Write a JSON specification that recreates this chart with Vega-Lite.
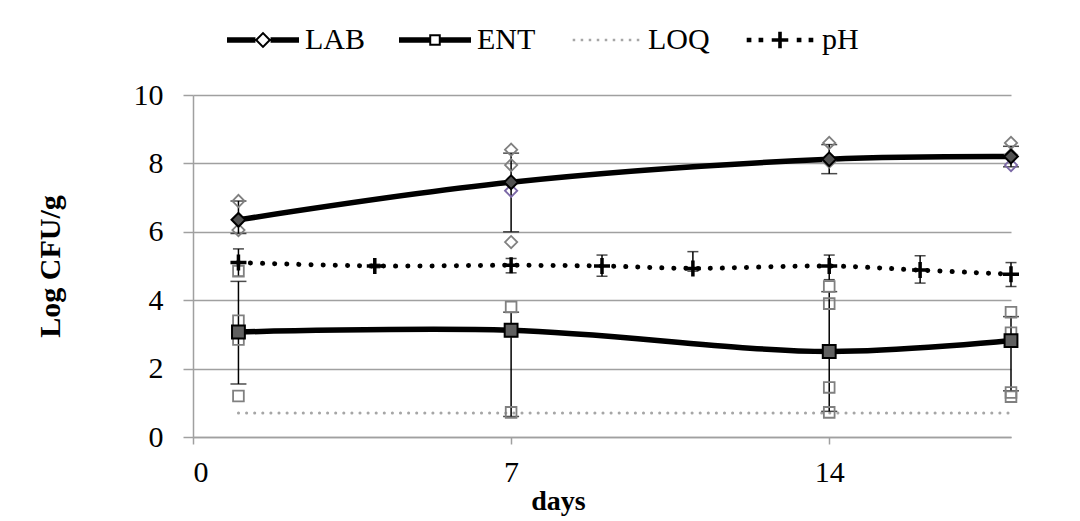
{
  "$schema": "https://vega.github.io/schema/vega-lite/v6.json",
  "autosize": {"type": "none"},
  "width": 818,
  "height": 342,
  "padding": {"left": 193, "top": 95, "right": 69, "bottom": 84},
  "background": "white",
  "config": {
    "view": {"stroke": null},
    "font": "Liberation Serif",
    "axis": {
      "labelFont": "Liberation Serif",
      "titleFont": "Liberation Serif",
      "labelColor": "black",
      "titleColor": "black",
      "domainColor": "#a0a0a0",
      "tickColor": "#a0a0a0",
      "gridColor": "#a0a0a0",
      "domainWidth": 1.5,
      "tickWidth": 1.5,
      "gridWidth": 1.5
    }
  },
  "datasets": {
    "means": [
      {"series": "LAB", "day": 1, "mean": 6.35, "lo": 5.95, "hi": 6.9},
      {"series": "LAB", "day": 7, "mean": 7.45, "lo": 6.0, "hi": 8.3},
      {"series": "LAB", "day": 14, "mean": 8.12, "lo": 7.7, "hi": 8.55},
      {"series": "LAB", "day": 18, "mean": 8.2, "lo": 7.9, "hi": 8.5},
      {"series": "ENT", "day": 1, "mean": 3.07, "lo": 1.55, "hi": 4.55},
      {"series": "ENT", "day": 7, "mean": 3.12, "lo": 0.6, "hi": 3.65},
      {"series": "ENT", "day": 14, "mean": 2.5, "lo": 0.75, "hi": 4.25},
      {"series": "ENT", "day": 18, "mean": 2.82, "lo": 1.35, "hi": 3.52},
      {"series": "pH", "day": 1, "mean": 5.1, "lo": 4.7, "hi": 5.5},
      {"series": "pH", "day": 4, "mean": 5.0, "lo": 4.95, "hi": 5.05},
      {"series": "pH", "day": 7, "mean": 5.02, "lo": 4.8, "hi": 5.22},
      {"series": "pH", "day": 9, "mean": 5.0, "lo": 4.7, "hi": 5.32},
      {"series": "pH", "day": 11, "mean": 4.93, "lo": 4.85, "hi": 5.42},
      {"series": "pH", "day": 14, "mean": 5.0, "lo": 4.6, "hi": 5.32},
      {"series": "pH", "day": 16, "mean": 4.88, "lo": 4.5, "hi": 5.3},
      {"series": "pH", "day": 18, "mean": 4.76, "lo": 4.4, "hi": 5.1}
    ],
    "reps": [
      {"series": "LAB", "day": 1, "rep": 1, "value": 6.35},
      {"series": "LAB", "day": 1, "rep": 2, "value": 6.9},
      {"series": "LAB", "day": 1, "rep": 3, "value": 6.05},
      {"series": "LAB", "day": 7, "rep": 1, "value": 7.2},
      {"series": "LAB", "day": 7, "rep": 2, "value": 8.4},
      {"series": "LAB", "day": 7, "rep": 3, "value": 7.95},
      {"series": "LAB", "day": 7, "rep": 4, "value": 5.7},
      {"series": "LAB", "day": 14, "rep": 1, "value": 8.1},
      {"series": "LAB", "day": 14, "rep": 2, "value": 8.6},
      {"series": "LAB", "day": 14, "rep": 3, "value": 8.05},
      {"series": "LAB", "day": 18, "rep": 1, "value": 7.95},
      {"series": "LAB", "day": 18, "rep": 2, "value": 8.6},
      {"series": "LAB", "day": 18, "rep": 3, "value": 8.25},
      {"series": "ENT", "day": 1, "rep": 1, "value": 4.85},
      {"series": "ENT", "day": 1, "rep": 2, "value": 3.4},
      {"series": "ENT", "day": 1, "rep": 3, "value": 2.85},
      {"series": "ENT", "day": 1, "rep": 4, "value": 1.2},
      {"series": "ENT", "day": 7, "rep": 1, "value": 3.8},
      {"series": "ENT", "day": 7, "rep": 2, "value": 3.1},
      {"series": "ENT", "day": 7, "rep": 3, "value": 0.72},
      {"series": "ENT", "day": 14, "rep": 1, "value": 4.4},
      {"series": "ENT", "day": 14, "rep": 2, "value": 3.9},
      {"series": "ENT", "day": 14, "rep": 3, "value": 1.45},
      {"series": "ENT", "day": 14, "rep": 4, "value": 0.72},
      {"series": "ENT", "day": 18, "rep": 1, "value": 3.65},
      {"series": "ENT", "day": 18, "rep": 2, "value": 3.05},
      {"series": "ENT", "day": 18, "rep": 3, "value": 1.3},
      {"series": "ENT", "day": 18, "rep": 4, "value": 1.18}
    ],
    "loq": [
      {"day": 1, "value": 0.7},
      {"day": 18, "value": 0.7}
    ],
    "legend": [
      {"series": "LAB"},
      {"series": "ENT"},
      {"series": "LOQ"},
      {"series": "pH"}
    ]
  },
  "encoding": {
    "x": {
      "field": "day",
      "type": "quantitative",
      "scale": {"domain": [0, 18], "nice": false},
      "axis": {
        "values": [0, 7, 14],
        "grid": false,
        "title": "days",
        "titleFontSize": 28,
        "titleFontWeight": "bold",
        "titlePadding": 0,
        "titleX": 365,
        "titleAnchor": "middle",
        "labelFontSize": 30,
        "labelPadding": 13,
        "labelDx": -4,
        "tickSize": 7
      }
    }
  },
  "layer": [
    {
      "data": {"name": "loq"},
      "mark": {"type": "line", "color": "#a6a6a6", "strokeWidth": 3, "strokeDash": [0.1, 8], "strokeCap": "round"},
      "encoding": {
        "y": {
          "field": "value",
          "type": "quantitative",
          "scale": {"domain": [0, 10], "nice": false},
          "axis": {
            "values": [0, 2, 4, 6, 8, 10],
            "grid": true,
            "title": "Log CFU/g",
            "titleFontSize": 30,
            "titleFontWeight": "bold",
            "titlePadding": 68,
            "labelFontSize": 30,
            "labelPadding": 20,
            "tickSize": 10
          }
        }
      }
    },
    {
      "data": {"name": "means"},
      "transform": [{"filter": "datum.series !== 'pH'"}],
      "mark": {"type": "line", "color": "black", "strokeWidth": 5.5, "interpolate": "catmull-rom"},
      "encoding": {
        "y": {"field": "mean", "type": "quantitative"},
        "detail": {"field": "series"}
      }
    },
    {
      "data": {"name": "means"},
      "transform": [{"filter": "datum.series === 'pH'"}],
      "mark": {"type": "line", "color": "black", "strokeWidth": 5, "strokeDash": [0.1, 12], "strokeCap": "round", "interpolate": "catmull-rom"},
      "encoding": {
        "y": {"field": "mean", "type": "quantitative"}
      }
    },
    {
      "data": {"name": "means"},
      "mark": {"type": "rule", "color": "black", "strokeWidth": 1.5},
      "encoding": {
        "y": {"field": "lo", "type": "quantitative"},
        "y2": {"field": "hi"}
      }
    },
    {
      "data": {"name": "means"},
      "mark": {"type": "tick", "orient": "horizontal", "color": "black", "thickness": 1.5},
      "encoding": {
        "y": {"field": "lo", "type": "quantitative"},
        "size": {"condition": {"test": "datum.series === 'pH'", "value": 11}, "value": 16}
      }
    },
    {
      "data": {"name": "means"},
      "mark": {"type": "tick", "orient": "horizontal", "color": "black", "thickness": 1.5},
      "encoding": {
        "y": {"field": "hi", "type": "quantitative"},
        "size": {"condition": {"test": "datum.series === 'pH'", "value": 11}, "value": 16}
      }
    },
    {
      "data": {"name": "reps"},
      "transform": [{"filter": "datum.series === 'LAB'"}],
      "mark": {"type": "point", "shape": "diamond", "filled": false, "size": 150, "strokeWidth": 1.8, "opacity": 1},
      "encoding": {
        "y": {"field": "value", "type": "quantitative"},
        "stroke": {"condition": {"test": "datum.rep === 1", "value": "#7b68a6"}, "value": "#808080"}
      }
    },
    {
      "data": {"name": "reps"},
      "transform": [{"filter": "datum.series === 'ENT'"}],
      "mark": {"type": "point", "shape": "square", "filled": false, "size": 115, "strokeWidth": 1.8, "stroke": "#808080", "opacity": 1},
      "encoding": {
        "y": {"field": "value", "type": "quantitative"}
      }
    },
    {
      "data": {"name": "means"},
      "transform": [{"filter": "datum.series === 'LAB'"}],
      "mark": {"type": "point", "shape": "diamond", "filled": true, "size": 190, "fill": "#505050", "stroke": "black", "strokeWidth": 2, "opacity": 1},
      "encoding": {
        "y": {"field": "mean", "type": "quantitative"}
      }
    },
    {
      "data": {"name": "means"},
      "transform": [{"filter": "datum.series === 'ENT'"}],
      "mark": {"type": "point", "shape": "square", "filled": true, "size": 165, "fill": "#606060", "stroke": "black", "strokeWidth": 2, "opacity": 1},
      "encoding": {
        "y": {"field": "mean", "type": "quantitative"}
      }
    },
    {
      "data": {"name": "means"},
      "transform": [{"filter": "datum.series === 'pH'"}],
      "mark": {"type": "point", "shape": "M-1,0L1,0M0,-1L0,1", "filled": false, "size": 256, "stroke": "black", "strokeWidth": 3.5, "opacity": 1},
      "encoding": {
        "y": {"field": "mean", "type": "quantitative"}
      }
    },
    {
      "data": {"name": "legend"},
      "mark": {"type": "point", "filled": true, "opacity": 0},
      "encoding": {
        "x": {"datum": 1},
        "y": {"datum": 1},
        "color": {
          "field": "series",
          "type": "nominal",
          "scale": {
            "domain": ["LAB", "ENT", "LOQ", "pH"],
            "range": ["black", "black", "#a6a6a6", "black"]
          },
          "legend": {
            "orient": "none",
            "legendX": 34,
            "legendY": -91,
            "direction": "horizontal",
            "title": null,
            "symbolSize": 5184,
            "symbolStrokeWidth": 0,
            "labelFont": "Liberation Serif",
            "labelFontSize": 30,
            "labelColor": "black",
            "labelOffset": 6,
            "columnPadding": 34,
            "encode": {
              "symbols": {
                "update": {
                  "opacity": {"value": 1},
                  "fillOpacity": {"value": 1}
                }
              }
            }
          }
        },
        "shape": {
          "field": "series",
          "type": "nominal",
          "scale": {
            "domain": ["LAB", "ENT", "LOQ", "pH"],
            "range": [
              "M-1,-0.075L-0.21,-0.075L-0.21,0.075L-1,0.075Z M0.21,-0.075L1,-0.075L1,0.075L0.21,0.075Z M0,-0.23L0.23,0L0,0.23L-0.23,0Z M0,-0.15L-0.15,0L0,0.15L0.15,0Z",
              "M-1,-0.075L-0.16,-0.075L-0.16,0.075L-1,0.075Z M0.16,-0.075L1,-0.075L1,0.075L0.16,0.075Z M-0.16,-0.16L0.16,-0.16L0.16,0.16L-0.16,0.16Z M-0.105,-0.105L-0.105,0.105L0.105,0.105L0.105,-0.105Z",
              "M-0.925,-0.035L-0.855,-0.035L-0.855,0.035L-0.925,0.035Z M-0.703,-0.035L-0.633,-0.035L-0.633,0.035L-0.703,0.035Z M-0.48,-0.035L-0.41,-0.035L-0.41,0.035L-0.48,0.035Z M-0.257,-0.035L-0.187,-0.035L-0.187,0.035L-0.257,0.035Z M-0.035,-0.035L0.035,-0.035L0.035,0.035L-0.035,0.035Z M0.187,-0.035L0.257,-0.035L0.257,0.035L0.187,0.035Z M0.41,-0.035L0.48,-0.035L0.48,0.035L0.41,0.035Z M0.633,-0.035L0.703,-0.035L0.703,0.035L0.633,0.035Z M0.855,-0.035L0.925,-0.035L0.925,0.035L0.855,0.035Z",
              "M-0.925,-0.065L-0.795,-0.065L-0.795,0.065L-0.925,0.065Z M-0.595,-0.065L-0.465,-0.065L-0.465,0.065L-0.595,0.065Z M0.465,-0.065L0.595,-0.065L0.595,0.065L0.465,0.065Z M0.795,-0.065L0.925,-0.065L0.925,0.065L0.795,0.065Z M-0.23,-0.05L0.23,-0.05L0.23,0.05L-0.23,0.05Z M-0.05,-0.23L0.05,-0.23L0.05,0.23L-0.05,0.23Z"
            ]
          },
          "legend": {
            "orient": "none",
            "legendX": 34,
            "legendY": -91,
            "direction": "horizontal",
            "title": null,
            "symbolSize": 5184,
            "symbolStrokeWidth": 0,
            "labelFont": "Liberation Serif",
            "labelFontSize": 30,
            "labelColor": "black",
            "labelOffset": 6,
            "columnPadding": 34,
            "encode": {
              "symbols": {
                "update": {
                  "opacity": {"value": 1},
                  "fillOpacity": {"value": 1}
                }
              }
            }
          }
        }
      }
    }
  ]
}
